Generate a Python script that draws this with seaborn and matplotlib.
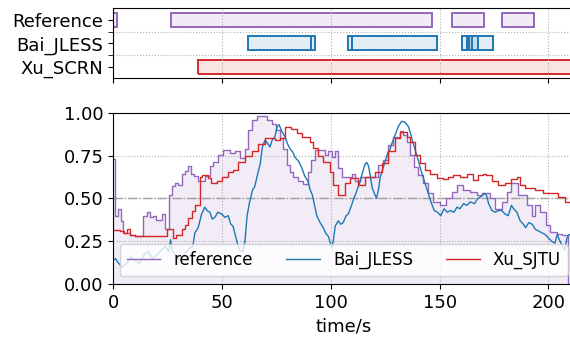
import numpy as np
import pandas as pd
import matplotlib
matplotlib.use('Agg')
import matplotlib.pyplot as plt
import seaborn as sns

# Detection segments (start, end) in seconds, top panel
rows = ['Xu_SCRN', 'Bai_JLESS', 'Reference']
ref_events = [(0.0, 1.7), (26.3, 146.3), (155.5, 170.4), (178.8, 193.5)]
bai_events = [(61.7, 90.8), (90.8, 92.8), (107.9, 109.9), (109.9, 148.6),
              (160.4, 164.7), (162.4, 167.5), (163.6, 174.3)]
xu_events = [(39.1, 216.0)]

# Reference activity (step curve: change times and values)
ref_t = [0, 0.6, 2.3, 3.4, 4.6, 7.7, 10, 13.8, 15.3, 16.8, 18.3, 19.8, 22.2, 23.7,
         25.5, 26.8, 28.3, 29.9, 31.4, 33, 34.5, 35.5, 37, 39, 42, 44.4, 46, 48.3,
         50.6, 53.6, 56, 58, 60.5, 62, 63.6, 65.9, 70.5, 72.8, 75, 76.6, 78, 79.7,
         81.2, 82.7, 85, 87.3, 89.6, 91, 92.6, 97.3, 98.8, 100.4, 102, 103.4, 105,
         109.6, 111, 113.4, 121.8, 124.1, 126.4, 128.7, 131.8, 133.3, 134.8, 136.2,
         138, 140, 142.4, 144.7, 147, 150, 153, 155.5, 157.8, 160.8, 164, 167,
         169.3, 173, 175.4, 178.5, 180.8, 183, 186.1, 190, 192.3, 193.8, 196, 199,
         200.7, 203.7, 206, 208.8, 212]
ref_v = [0.73, 0.40, 0.44, 0.37, 0.30, 0.29, 0.28, 0.40, 0.42, 0.395, 0.40, 0.375, 0.41, 0.32,
         0.52, 0.57, 0.59, 0.58, 0.64, 0.66, 0.69, 0.64, 0.63, 0.60, 0.63, 0.69, 0.715, 0.755,
         0.78, 0.765, 0.775, 0.735, 0.79, 0.90, 0.955, 0.98, 0.955, 0.935, 0.90, 0.85, 0.79, 0.695,
         0.655, 0.625, 0.60, 0.585, 0.655, 0.725, 0.78, 0.755, 0.775, 0.74, 0.775, 0.675, 0.625,
         0.645, 0.60, 0.625, 0.695, 0.725, 0.81, 0.86, 0.895, 0.87, 0.83, 0.755,
         0.685, 0.635, 0.59, 0.53, 0.48, 0.46, 0.50, 0.54, 0.58, 0.55, 0.54, 0.52,
         0.53, 0.50, 0.44, 0.48, 0.54, 0.59, 0.52, 0.46, 0.40, 0.46, 0.42, 0.345,
         0.305, 0.295, 0.285, 0.0, 0.0]

# Xu_SJTU output (step curve)
xu_t = [0, 3, 5, 6.5, 7.7, 10, 24.5, 26, 27.6, 29, 31.4, 33, 34.5, 36, 37.5, 39.8, 40.6,
        43.6, 45, 47.5, 49.8, 52.8, 55, 57.5, 60.5, 63.6, 66.6, 69.7, 74.3, 76.5, 78.9,
        81.5, 84.3, 86.6, 90.4, 91.9, 94.2, 96.5, 99.6, 101.1, 103.4, 106.5, 108.8, 112.6,
        115.7, 120.3, 123.3, 126.4, 129.5, 131.8, 134.8, 136.5, 138.6, 141, 143.2, 145.5,
        148.6, 151.7, 154, 156.3, 159.3, 162.4, 165.4, 167.7, 170, 171.5, 174, 177, 180,
        183, 185.4, 187, 189, 193.8, 197.6, 204.5, 207.6, 212]
xu_v = [0.315, 0.31, 0.30, 0.32, 0.29, 0.28, 0.325, 0.32, 0.27, 0.29, 0.325, 0.345, 0.385,
        0.425, 0.46, 0.625, 0.635, 0.62, 0.59, 0.60, 0.625, 0.655, 0.665, 0.715, 0.745, 0.775,
        0.815, 0.85, 0.84, 0.85, 0.915, 0.905, 0.88, 0.86, 0.83, 0.795, 0.745, 0.715, 0.655,
        0.58, 0.52, 0.59, 0.62, 0.58, 0.625, 0.655, 0.705, 0.775, 0.85, 0.89, 0.86, 0.83,
        0.755, 0.705, 0.665, 0.645, 0.62, 0.615, 0.625, 0.635, 0.625, 0.645, 0.61, 0.635,
        0.645, 0.635, 0.60, 0.58, 0.59, 0.615, 0.625, 0.58, 0.56, 0.55, 0.53, 0.51, 0.48, 0.48]

# Bai_JLESS output (continuous curve)
bai_t = [0, 1, 2, 4, 6, 8, 10, 12, 14, 16, 18, 20, 22, 24, 25.5, 26.3, 27, 29, 31, 33, 35,
         36.5, 37.5, 39, 40.6, 42, 43, 44.4, 45.5, 46.7, 48, 49.8, 51.3, 52.8, 54, 55, 56, 57,
         58, 59.5, 60.5, 61.5, 62.5, 64, 65, 66.5, 67.5, 68.5, 69.7, 71, 72, 73, 74.3, 75.3,
         76.2, 77.5, 78.9, 80, 81.2, 82.5, 83.5, 85, 86.6, 88, 89.5, 90.5, 91.5, 92.5, 93.5,
         95, 96.5, 97.5, 98.8, 99.8, 100.5, 101.2, 102, 103.4, 104.5, 105.7, 107, 108, 109.5,
         110.5, 111.5, 112.6, 113.5, 114.5, 115.7, 116.5, 117.3, 118, 119, 120.3, 121, 122,
         122.6, 123.8, 125, 126, 127.2, 128.3, 129.5, 131, 132.5, 134, 135.6, 136.6, 137.6,
         138.6, 140, 141.5, 143, 144.5, 146, 147.5, 149, 150.5, 152, 153.5, 155, 156.5, 158,
         159.3, 161, 162.5, 164, 166, 167.5, 169, 170.5, 171.5, 172.5, 174, 175.5, 177, 178.5,
         180, 181.5, 183, 184, 185.5, 187, 188.5, 189.5, 191, 192.5, 194, 195.5, 197, 198.5,
         200, 201.5, 203, 204, 205, 206.5, 207.5, 208.5, 209.5, 212]
bai_v = [0.14, 0.15, 0.13, 0.10, 0.12, 0.16, 0.14, 0.12, 0.17, 0.19, 0.15, 0.17, 0.20, 0.22,
         0.19, 0.26, 0.20, 0.16, 0.14, 0.18, 0.21, 0.22, 0.30, 0.33, 0.41, 0.45, 0.43, 0.42,
         0.38, 0.39, 0.42, 0.41, 0.39, 0.40, 0.35, 0.34, 0.29, 0.24, 0.20, 0.19, 0.25, 0.40,
         0.47, 0.55, 0.57, 0.65, 0.70, 0.80, 0.84, 0.82, 0.80, 0.84, 0.86, 0.92, 0.93, 0.89,
         0.86, 0.82, 0.79, 0.77, 0.74, 0.72, 0.68, 0.63, 0.60, 0.55, 0.52, 0.46, 0.40, 0.36,
         0.33, 0.30, 0.28, 0.24, 0.21, 0.26, 0.34, 0.37, 0.35, 0.36, 0.40, 0.41, 0.46, 0.50,
         0.53, 0.57, 0.60, 0.65, 0.70, 0.71, 0.69, 0.64, 0.56, 0.52, 0.50, 0.56, 0.62, 0.67,
         0.72, 0.76, 0.79, 0.83, 0.87, 0.92, 0.95, 0.945, 0.92, 0.88, 0.83, 0.79, 0.73, 0.66,
         0.60, 0.54, 0.48, 0.43, 0.42, 0.40, 0.44, 0.42, 0.43, 0.42, 0.45, 0.44, 0.47, 0.46,
         0.48, 0.47, 0.50, 0.51, 0.53, 0.52, 0.47, 0.43, 0.42, 0.43, 0.43, 0.41, 0.40, 0.46,
         0.44, 0.42, 0.37, 0.35, 0.33, 0.36, 0.35, 0.32, 0.31, 0.30, 0.29, 0.27, 0.25, 0.24,
         0.29, 0.26, 0.22, 0.20, 0.27, 0.29, 0.28]

purple, blue, red = '#9467bd', '#1f77b4', '#d62728'
plt.rcParams['font.size'] = 13

fig = plt.figure(figsize=(5.7, 3.41), dpi=100)
ax_top = fig.add_axes([0.1988, 0.7704, 0.8092, 0.2053])
ax = fig.add_axes([0.1988, 0.1663, 0.8092, 0.5032])

# top panel: detected segments
for row, events, col in [(2, ref_events, purple), (1, bai_events, blue), (0, xu_events, red)]:
    starts = [s for s, e in events]
    widths = [e - s for s, e in events]
    ax_top.barh([row] * len(events), widths, left=starts, height=0.6,
                color=col, alpha=0.13, linewidth=0)
    ax_top.barh([row] * len(events), widths, left=starts, height=0.6,
                fill=False, edgecolor=col, linewidth=1.4)
ax_top.set_yticks([0, 1, 2])
ax_top.set_yticklabels(rows)
ax_top.set_yticks([0.5, 1.5], minor=True)
ax_top.set_ylim(-0.5, 2.5)
ax_top.set_xlim(0, 212)
ax_top.set_xticks([0, 50, 100, 150, 200])
ax_top.set_xticklabels([])
ax_top.tick_params(axis='y', which='minor', length=3.5)
ax_top.grid(axis='x', linestyle=':', color='#b0b0b0')
ax_top.grid(axis='y', which='minor', linestyle=':', color='#b0b0b0')

# bottom panel: activity curves
ax.fill_between(ref_t, ref_v, step='post', color=purple, alpha=0.12, linewidth=0)
sns.lineplot(x=ref_t, y=ref_v, drawstyle='steps-post', color=purple, linewidth=1.0,
             ax=ax, label='reference')
sns.lineplot(x=bai_t, y=bai_v, color=blue, linewidth=1.0, ax=ax, label='Bai_JLESS')
sns.lineplot(x=xu_t, y=xu_v, drawstyle='steps-post', color=red, linewidth=1.0,
             ax=ax, label='Xu_SJTU')
ax.axhline(0.5, color='gray', linestyle='-.', linewidth=1.0, alpha=0.8, zorder=1)
ax.set_xlim(0, 212)
ax.set_ylim(0, 1)
ax.set_xticks([0, 50, 100, 150, 200])
ax.set_yticks([0, 0.25, 0.5, 0.75, 1.0])
ax.set_yticklabels(['0.00', '0.25', '0.50', '0.75', '1.00'])
ax.grid(linestyle=':', color='#b0b0b0')
ax.set_xlabel('time/s')
ax.set_ylabel('')
ax.legend(loc='lower center', ncol=3, fontsize=12)

fig.savefig('out.png', dpi=100)
